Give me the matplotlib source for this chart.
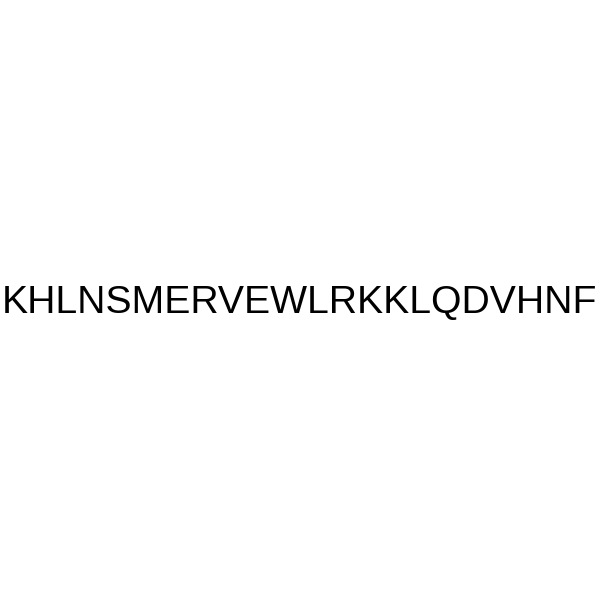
import matplotlib
matplotlib.use("Agg")
from matplotlib import pyplot as plt

sequence = "KHLNSMERVEWLRKKLQDVHNF"

fig = plt.figure(figsize=(6, 6), dpi=100)
fig.patch.set_facecolor("white")
fig.text(0.4985, 1 - 313 / 600, sequence, ha="center", va="baseline",
         fontsize=28.2, family="Liberation Sans", color="black")
fig.savefig("out.png", dpi=100)
plt.close(fig)
